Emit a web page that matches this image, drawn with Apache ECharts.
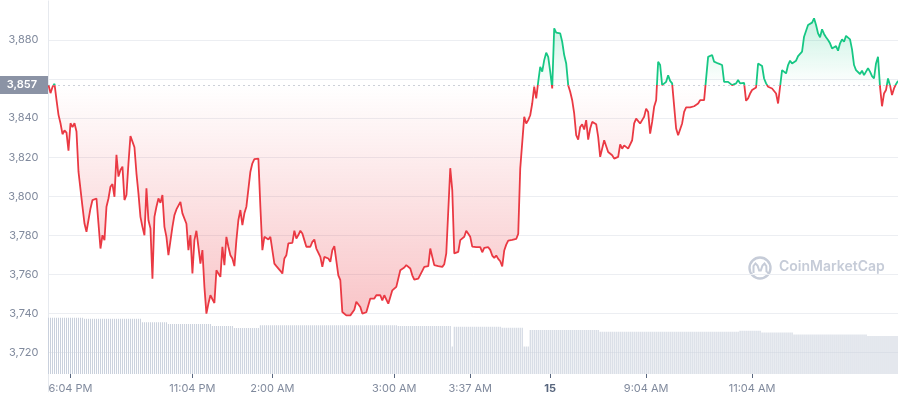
<!DOCTYPE html>
<html><head><meta charset="utf-8">
<script src="https://cdn.jsdelivr.net/npm/echarts@6/dist/echarts.min.js"></script>
<style>html,body{margin:0;padding:0;background:#fff}#c{width:898px;height:400px}</style>
</head><body><div id="c"></div>
<script>
const prices = [
3857.0,3852.8,3856.0,3857.6,3849.4,3841.7,3837.4,3831.8,3833.7,3832.6,
3823.4,3837.4,3835.4,3837.4,3833.2,3812.6,3811.8,3794.7,3786.1,3781.9,
3782.7,3793.8,3798.1,3797.2,3798.9,3786.1,3773.3,3780.1,3777.6,3794.7,
3798.9,3804.9,3806.3,3799.8,3821.2,3810.1,3813.5,3815.2,3798.1,3800.7,
3816.9,3830.9,3828.0,3825.1,3811.8,3801.5,3789.5,3784.4,3780.1,3804.1,
3787.8,3783.6,3757.9,3789.5,3794.7,3798.9,3796.7,3800.7,3784.4,3779.3,
3769.9,3770.8,3784.4,3790.4,3793.3,3793.0,3797.2,3791.3,3790.4,3786.0,
3772.5,3780.2,3760.5,3777.6,3782.4,3774.2,3765.6,3772.5,3753.7,3740.0,
3745.1,3749.4,3748.5,3745.4,3762.2,3763.1,3758.8,3774.2,3764.8,3779.3,
3774.2,3769.9,3768.2,3764.3,3777.6,3787.9,3793.0,3785.3,3791.3,3794.7,
3793.8,3812.6,3816.9,3819.0,3819.5,3819.3,3794.7,3772.5,3779.3,3778.4,
3777.9,3779.3,3780.2,3765.6,3764.3,3764.3,3761.9,3760.5,3768.2,3769.9,
3775.9,3776.2,3776.2,3782.4,3778.4,3780.2,3782.4,3781.0,3777.6,3774.2,
3773.8,3774.2,3776.7,3777.9,3773.3,3772.5,3769.0,3763.9,3769.0,3769.4,
3768.2,3766.5,
3772.5,3774.5,3775.5,3759.6,3757.1,3740.8,3740.0,3739.1,3738.3,3739.1,
3738.6,3742.0,3746.1,3746.1,3743.4,3740.0,3740.3,3740.7,3740.3,3747.7,
3747.2,3747.7,3749.4,3749.2,3749.4,3746.8,3749.4,3749.4,3745.1,3745.4,
3751.9,3752.3,3753.7,3753.7,3762.2,3762.2,3763.6,3764.8,3765.3,3763.1,
3759.6,3757.4,3758.4,3757.9,3758.8,3761.9,3763.9,3763.6,3764.3,3773.3,
3773.8,3764.8,3763.9,3764.3,3764.3,3763.9,3765.3,3770.8,3771.1,3814.4,
3803.2,3770.8,3771.3,3771.6,3777.6,3778.4,3779.3,3782.4,3781.4,3779.3,
3774.3,3774.0,3774.0,3773.1,3774.0,3771.4,3773.6,3772.6,3774.0,3772.6,
3769.7,3768.5,3769.7,3768.0,3766.8,3764.1,3772.3,3775.3,3777.4,3777.0,
3777.7,3777.4,3778.2,3780.8,3814.2,3815.0,3840.7,3837.3,3839.0,3841.5,
3847.5,3856.1,3850.1,3858.6,3866.3,3863.8,3869.7,3873.5,3871.4,3863.8,
3855.2,3886.0,3883.8,3884.3,3883.4,3879.1,3872.3,3868.0,3856.9,3853.5,
3849.2,3842.4,3831.3,3829.0,3835.5,3836.9,3834.2,3839.0,3829.0,3834.7,
3838.1,3838.6,3836.9,3830.4,3820.2,3820.2,3828.7,
3829.6,3822.7,3821.9,3821.0,3819.3,3818.4,3820.2,3826.6,3824.4,3826.1,
3825.3,3824.4,3825.3,3828.7,3837.3,3839.8,3839.0,3837.3,3839.0,3840.7,
3844.9,3843.2,3832.1,3838.1,3845.8,3849.2,3868.9,3867.2,3856.9,3857.8,
3858.6,3862.0,3859.1,3857.8,3856.9,3834.7,3831.3,3831.3,3837.3,3843.2,
3845.5,3845.5,3845.5,3846.1,3846.1,3846.1,3847.5,3849.2,3849.2,3849.2,
3849.2,3871.4,3872.3,3872.3,3868.9,3868.9,3868.0,3868.0,3867.2,3858.6,
3858.6,3858.6,3857.8,3856.9,3856.4,3857.8,3859.5,3857.8,3858.6,3858.1,
3848.9,3850.1,
3852.6,3854.4,3855.2,3855.7,3868.0,3868.4,3866.7,3860.3,3857.8,3856.1,
3855.7,3855.2,3855.2,3852.6,3847.5,3847.5,3864.6,3863.8,3862.9,3867.2,
3869.4,3868.0,3868.4,3869.4,3871.8,3872.8,3874.0,3881.7,3882.1,3887.7,
3888.6,3888.9,3891.1,3887.7,3883.4,3881.4,3885.5,3883.1,3881.4,3880.0,
3878.3,3875.7,3876.2,3876.9,3874.5,3878.3,3880.3,3879.1,3882.1,3881.7,
3880.3,3875.2,3867.2,3864.6,3864.6,3862.6,3864.3,3862.0,3863.8,3865.5,
3863.8,3861.5,3860.3,3868.0,3871.4,3856.1,3846.1,3852.6,3854.4,3860.3,
3856.9,3851.8,3855.2,3857.4,3859.1
];

const volumes = [
15.2,15.2,15.2,15.2,15.2,15.2,15.2,15.2,15.2,15.2,
15.2,15.2,15.2,15.2,15.2,15.2,15.2,15.2,
14.9,14.9,14.9,14.9,14.9,14.9,14.9,14.9,14.9,14.9,
14.9,14.9,14.9,14.9,14.9,14.9,14.9,14.9,14.9,14.9,
14.9,14.9,14.9,14.9,14.9,14.9,14.9,14.9,14.9,
14.0,14.0,14.0,14.0,14.0,14.0,14.0,14.0,14.0,14.0,
14.0,14.0,14.0,
13.5,13.5,13.5,13.5,13.5,13.5,13.5,13.5,13.5,13.5,
13.5,13.5,13.5,13.5,13.5,13.5,13.5,13.5,13.5,13.5,
13.5,13.5,
13.0,13.0,13.0,13.0,13.0,13.0,13.0,13.0,13.0,13.0,
13.0,
12.4,12.4,12.4,12.4,12.4,12.4,12.4,12.4,12.4,12.4,
12.4,12.4,12.4,
13.2,13.2,13.2,13.2,13.2,13.2,13.2,13.2,13.2,13.2,
13.2,13.2,13.2,13.2,13.2,13.2,13.2,13.2,13.2,13.2,
13.2,13.2,13.2,13.2,13.2,13.2,13.2,13.2,13.2,13.2,
13.2,13.2,13.2,13.2,13.2,13.2,13.2,13.2,13.2,13.2,
13.2,13.2,13.2,13.2,13.2,13.2,13.2,13.2,13.2,13.2,
13.2,13.2,13.2,13.2,13.2,13.2,13.2,13.2,13.2,13.2,
13.2,13.2,13.2,13.2,13.2,13.2,13.2,13.2,13.2,
13.0,13.0,13.0,13.0,13.0,13.0,13.0,13.0,13.0,13.0,
13.0,13.0,13.0,13.0,13.0,13.0,13.0,13.0,13.0,13.0,
13.0,13.0,13.0,13.0,13.0,13.0,13.0,
7.4,
12.8,12.8,12.8,12.8,12.8,12.8,12.8,12.8,12.8,12.8,
12.8,12.8,12.8,12.8,12.8,12.8,12.8,12.8,12.8,12.8,
12.8,12.8,12.8,12.8,
12.5,12.5,12.5,12.5,12.5,12.5,12.5,12.5,12.5,12.5,
12.5,
7.4,7.4,7.4,
11.9,11.9,11.9,11.9,11.9,11.9,11.9,11.9,11.9,11.9,
11.9,11.9,11.9,11.9,11.9,11.9,11.9,11.9,11.9,11.9,
11.9,11.9,11.9,11.9,11.9,11.9,11.9,11.9,11.9,11.9,
11.9,11.9,11.9,11.9,11.9,
11.4,11.4,11.4,11.4,11.4,11.4,11.4,11.4,11.4,11.4,
11.4,11.4,11.4,11.4,11.4,11.4,11.4,11.4,11.4,11.4,
11.4,11.4,11.4,11.4,11.4,11.4,11.4,11.4,11.4,11.4,
11.4,11.4,11.4,11.4,11.4,11.4,11.4,11.4,11.4,11.4,
11.4,11.4,11.4,11.4,11.4,11.4,11.4,11.4,11.4,11.4,
11.4,11.4,11.4,11.4,11.4,11.4,11.4,11.4,11.4,11.4,
11.4,11.4,11.4,11.4,11.4,11.4,11.4,11.4,11.4,11.4,
11.7,11.7,11.7,11.7,11.7,11.7,11.7,11.7,11.7,11.7,
11.7,
11.2,11.2,11.2,11.2,11.2,11.2,11.2,11.2,11.2,11.2,
11.2,11.2,11.2,11.2,11.2,11.2,
10.7,10.7,10.7,10.7,10.7,10.7,10.7,10.7,10.7,10.7,
10.7,10.7,10.7,10.7,10.7,10.7,10.7,10.7,10.7,10.7,
10.7,10.7,10.7,10.7,10.7,10.7,10.7,10.7,10.7,10.7,
10.7,10.7,10.7,10.7,10.7,10.7,10.7,
10.3,10.3,10.3,10.3,10.3,10.3,10.3,10.3,10.3,10.3,
10.3,10.3,10.3,10.3,10.3,10.3
];

const baseline = 3857;
const tickLabels = ['6:04 PM','11:04 PM','2:00 AM','3:00 AM','3:37 AM','15','9:04 AM','11:04 AM'];
const tickIndex = [11,72,112,173,211,251,299,352];
const boldLabels = ['15'];
const yMin = 3700, yMax = 3900, yStep = 20;
const hiddenYLabels = [3700, 3860, 3900];

const RED = '#ea3943', GREEN = '#16c784';
const cats = prices.map((_, i) => String(i));
const labelFor = i => { const k = tickIndex.indexOf(i); return k < 0 ? '' : tickLabels[k]; };
const showTick = i => tickIndex.indexOf(i) >= 0;

const chart = echarts.init(document.getElementById('c'), null, {renderer: 'canvas'});
const gridColor = '#eceef2';
const splitColors = [];
for (let v = yMin; v <= yMax; v += yStep) splitColors.push((v === yMin || v === yMax) ? 'rgba(0,0,0,0)' : gridColor);
const wm = '#c6ccd8';

const option = {
  animation: false,
  textStyle: {fontFamily: 'Inter'},
  grid: [
    {left: 48.5, width: 850, top: 0.91, bottom: 8.21},
    {left: 48.5, width: 850, top: 300, bottom: 26}
  ],
  xAxis: [
    {type: 'category', gridIndex: 0, data: cats, boundaryGap: false, show: false},
    {type: 'category', gridIndex: 1, data: cats, boundaryGap: false,
     axisLine: {show: false},
     axisTick: {show: true, interval: (i) => showTick(i), length: 4, lineStyle: {color: '#58667e'}},
     axisLabel: {interval: (i) => showTick(i),
       formatter: (v, i) => { const t = labelFor(i); return boldLabels.includes(t) ? '{b|' + t + '}' : t; },
       color: '#808a9d', fontSize: 11, margin: 9, fontFamily: 'Inter',
       rich: {b: {fontWeight: 'bold', color: '#58667e', fontSize: 11, fontFamily: 'Inter'}}}}
  ],
  yAxis: [
    {type: 'value', gridIndex: 0, min: yMin, max: yMax, interval: yStep,
     axisLine: {show: true, lineStyle: {color: '#e6e9ee'}}, axisTick: {show: false},
     axisLabel: {color: '#808a9d', fontSize: 11, margin: 10, fontFamily: 'Inter',
       formatter: v => hiddenYLabels.includes(v) ? '' : v.toLocaleString('en-US')},
     splitLine: {lineStyle: {color: splitColors}}},
    {type: 'value', gridIndex: 1, min: 0, max: 20, show: false, splitLine: {show: false}}
  ],
  visualMap: {show: false, type: 'piecewise', seriesIndex: 0, dimension: 1,
    pieces: [{gte: yMin, lt: baseline, color: RED}, {gte: baseline, lte: yMax, color: GREEN}],
    outOfRange: {color: RED}},
  series: [
    {type: 'line', data: prices, xAxisIndex: 0, yAxisIndex: 0, showSymbol: false, symbol: 'none',
     lineStyle: {width: 1.8}, z: 3,
     markLine: {silent: true, symbol: 'none', animation: false,
       lineStyle: {type: [1, 4], color: '#9aa1b0', width: 1},
       label: {position: 'start', distance: 0.5, formatter: p => p.value.toLocaleString('en-US'),
         color: '#fff', backgroundColor: '#8b93a5', fontWeight: 600, fontSize: 11, fontFamily: 'Inter',
         lineHeight: 12, padding: [3, 11, 3, 8]},
       data: [{yAxis: baseline}]}},
    {type: 'bar', data: volumes, xAxisIndex: 1, yAxisIndex: 1, barWidth: 1,
     itemStyle: {color: '#c9d0dc'}, silent: true, z: 1}
  ],
  graphic: [
    {type: 'circle', shape: {cx: 760, cy: 268, r: 10.5}, style: {fill: 'none', stroke: wm, lineWidth: 2.4}, silent: true},
    {type: 'polyline', shape: {points: [[753.5,273],[753.5,266],[755.5,263.5],[757.5,265.5],[759.2,270.5],[760.8,270.5],[762.5,265.5],[764.5,263.5],[766.3,266],[766.5,271.5],[769,273]]},
     style: {fill: 'none', stroke: wm, lineWidth: 2}, silent: true},
    {type: 'text', left: 779, top: 260, silent: true,
     style: {text: 'CoinMarketCap', fill: wm, font: '600 14px Inter'}}
  ]
};
chart.setOption(option);

// area fill between the line and the baseline, gradient split at the baseline's pixel row
const by = chart.convertToPixel({yAxisIndex: 0}, baseline);
const H = 400;
const grad = new echarts.graphic.LinearGradient(0, 0, 0, H, [
  {offset: 0, color: 'rgba(22,199,132,0.30)'},
  {offset: by / H, color: 'rgba(22,199,132,0.0)'},
  {offset: by / H + 0.001, color: 'rgba(234,57,67,0.0)'},
  {offset: 0.80, color: 'rgba(234,57,67,0.30)'},
  {offset: 1, color: 'rgba(234,57,67,0.30)'}
], true);
chart.setOption({series: [{areaStyle: {origin: baseline, color: grad, opacity: 1}}, {}]});
</script></body></html>
